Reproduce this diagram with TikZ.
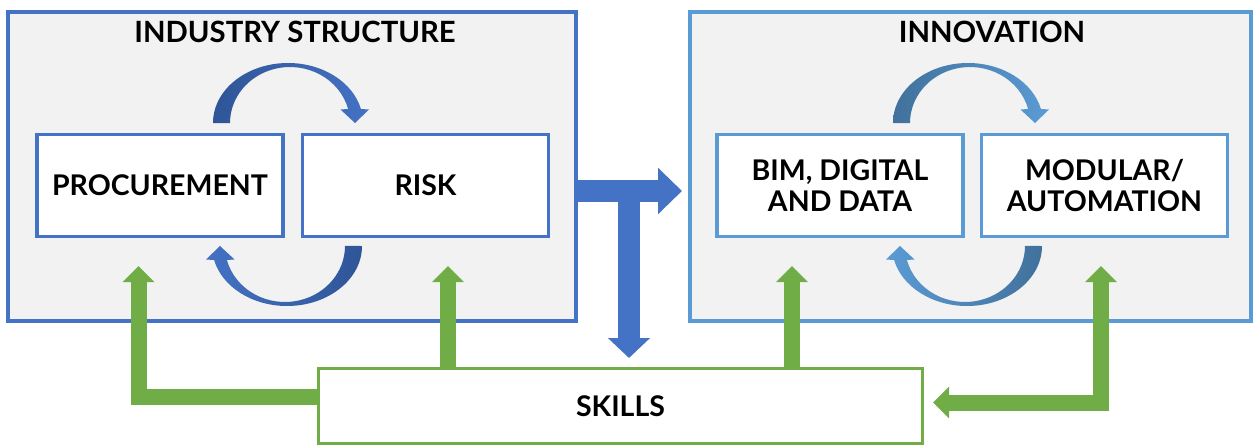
\documentclass[tikz,border=0pt]{standalone}
\usepackage{fontspec}
\setmainfont{Lato}
\usetikzlibrary{arrows.meta}
\definecolor{bblue}{HTML}{4472C4}
\definecolor{dblue}{HTML}{2F5597}
\definecolor{lblue}{HTML}{5B9BD5}
\definecolor{ldblue}{HTML}{41719C}
\definecolor{ggreen}{HTML}{70AD47}
\definecolor{pgray}{HTML}{F2F2F2}
% #1 transform, #2 left colour, #3 right colour
\newcommand\cyclearrow[3]{%
  \shade[#1, left color=#2, right color=#3]
    (-74.5,61.5) arc[start angle=180, end angle=13.5, x radius=75, y radius=60]
    -- (81.5,75) -- (67.5,61.5) -- (53,75) -- (60.6,75.5)
    arc[start angle=14.5, end angle=180, x radius=60, y radius=56] -- cycle;}
\begin{document}
\begin{tikzpicture}[x=1pt,y=1pt,
  panel/.style={draw=#1, line width=3.5pt, fill=pgray, inner sep=0pt},
  itembox/.style={draw=#1, line width=3.3pt, fill=white, minimum width=246pt,
    minimum height=102pt, inner sep=0pt, align=center, font=\boxfont},
  titletext/.style={font=\titlefont, inner sep=0pt},
  greenarrow/.style={draw=ggreen, line width=16pt, -{Triangle[width=31pt,length=16pt]}},
  bluearrow/.style={draw=bblue, line width=22pt}]
\def\boxfont{\fontsize{28.5}{31}\selectfont\bfseries}
\def\titlefont{\fontsize{29.3}{31}\selectfont\bfseries}
\useasboundingbox (0,0) rectangle (1254,-447);
% panels
\node[panel=bblue, minimum width=568pt, minimum height=309pt] (lpanel) at (292,-166.5) {};
\node[panel=lblue, minimum width=561pt, minimum height=309pt] (rpanel) at (970.5,-166.5) {};
\node[titletext] (ltitle) at (295,-32) {INDUSTRY STRUCTURE};
\node[titletext] (rtitle) at (992,-32) {INNOVATION};
% item boxes
\node[itembox=bblue] (proc) at (160,-185.5) {PROCUREMENT};
\node[itembox=bblue] (risk) at (425.5,-185.5) {RISK};
\node[itembox=lblue] (bim) at (840,-185.5) {BIM, DIGITAL\\AND DATA};
\node[itembox=lblue] (mod) at (1104.5,-185.5) {MODULAR/\\AUTOMATION};
% cycle arrows
\cyclearrow{shift={(287.5,-184.5)}}{dblue}{bblue}
\cyclearrow{shift={(287.5,-184.5)},rotate=180}{bblue}{dblue}
\cyclearrow{shift={(967.5,-184.5)}}{ldblue}{lblue}
\cyclearrow{shift={(967.5,-184.5)},rotate=180}{lblue}{ldblue}
% skills
\node[draw=ggreen, line width=3.3pt, fill=white, minimum width=604pt, minimum height=75pt,
  inner sep=0pt, font=\boxfont] (skills) at (620.5,-406) {SKILLS};
% blue T arrow
\coordinate (bT) at (682,-191);
\coordinate (bJ) at (629,-191);
\coordinate (bD) at (629,-358);
\draw[bluearrow, -{Triangle[width=45pt,length=24pt]}] (lpanel.east |- bT) -- (bT);
\draw[bluearrow, -{Triangle[width=41pt,length=20pt]}] (bJ) -- (bD);
% green arrows
\coordinate (gL1) at (138.5,-396.5);
\coordinate (gL2) at (138.5,-266);
\coordinate (gM1) at (448,-266);
\coordinate (gM2) at (792,-266);
\coordinate (gR1) at (1101,-266);
\coordinate (gR2) at (1101,-402.5);
\coordinate (gR3) at (933,-402.5);
\draw[greenarrow] (skills.west |- gL1) -- (gL1) -- (gL2);
\draw[greenarrow] (skills.north -| gM1) -- (gM1);
\draw[greenarrow] (skills.north -| gM2) -- (gM2);
\draw[greenarrow, {Triangle[width=31pt,length=16pt]}-{Triangle[width=31pt,length=16pt]}] (gR1) -- (gR2) -- (gR3);
\end{tikzpicture}
\end{document}
